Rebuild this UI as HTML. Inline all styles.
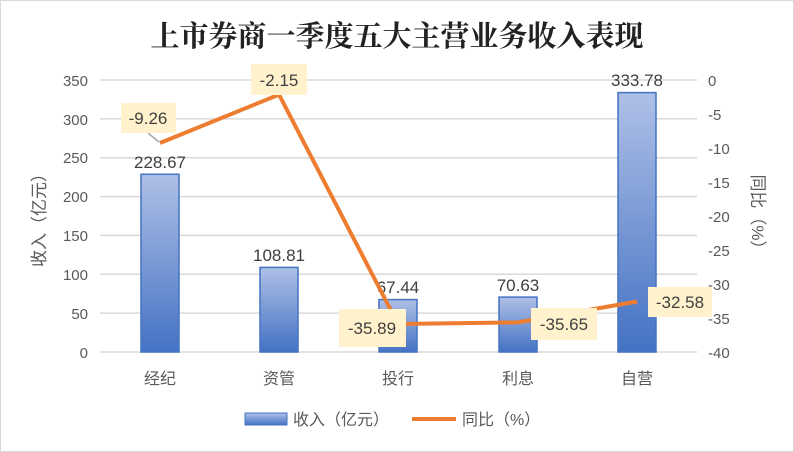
<!DOCTYPE html><html><head><meta charset="utf-8"><style>body{margin:0;background:#fff}svg{display:block}text{font-family:"Liberation Sans","Noto Sans CJK SC",sans-serif}</style></head><body>
<svg width="794" height="452" viewBox="0 0 794 452">
<defs><linearGradient id="g" x1="0" y1="0" x2="0" y2="1"><stop offset="0" stop-color="#aec0e6"/><stop offset="1" stop-color="#4472c4"/></linearGradient></defs>
<rect x="0.5" y="0.5" width="793" height="451" fill="#fff" stroke="#d9d9d9"/>
<text x="397" y="46" text-anchor="middle" font-size="29" font-weight="bold" fill="#222" style="font-family:'Noto Serif CJK SC',serif">上市券商一季度五大主营业务收入表现</text>
<g stroke="#d9d9d9" stroke-width="1.5">
<line x1="100" x2="697" y1="80" y2="80"/><line x1="100" x2="697" y1="118.9" y2="118.9"/><line x1="100" x2="697" y1="157.7" y2="157.7"/><line x1="100" x2="697" y1="196.6" y2="196.6"/><line x1="100" x2="697" y1="235.4" y2="235.4"/><line x1="100" x2="697" y1="274.3" y2="274.3"/><line x1="100" x2="697" y1="313.1" y2="313.1"/><line x1="100" x2="697" y1="352" y2="352"/></g>
<g font-size="15" fill="#595959" text-anchor="end">
<text x="88" y="86">350</text><text x="88" y="125">300</text><text x="88" y="163">250</text><text x="88" y="202">200</text><text x="88" y="241">150</text><text x="88" y="280">100</text><text x="88" y="319">50</text><text x="88" y="358">0</text></g>
<g font-size="15" fill="#595959">
<text x="708" y="86">0</text><text x="708" y="120">-5</text><text x="708" y="154">-10</text><text x="708" y="188">-15</text><text x="708" y="222">-20</text><text x="708" y="256">-25</text><text x="708" y="290">-30</text><text x="708" y="324">-35</text><text x="708" y="358">-40</text></g>
<text transform="translate(45,216) rotate(-90)" text-anchor="middle" font-size="17" fill="#595959">收入（亿元）</text>
<text transform="translate(752,216) rotate(90)" text-anchor="middle" font-size="17" fill="#595959">同比（%）</text>
<g fill="url(#g)" stroke="#4472c4" stroke-width="1.5">
<rect x="141" y="174.3" width="38" height="177.7"/>
<rect x="260" y="267.4" width="38" height="84.6"/>
<rect x="379" y="299.6" width="38" height="52.4"/>
<rect x="499" y="297.1" width="38" height="54.9"/>
<rect x="618" y="92.6" width="38" height="259.4"/></g>
<g font-size="17" fill="#404040" text-anchor="middle">
<text x="160" y="168">228.67</text><text x="279" y="261">108.81</text><text x="398" y="293">67.44</text><text x="518" y="291">70.63</text><text x="637" y="86">333.78</text></g>
<line x1="148" y1="133" x2="159" y2="142" stroke="#a6a6a6" stroke-width="1.5"/>
<polyline points="160,143 279,94.6 398,324 518,322.4 637,301.5" fill="none" stroke="#ed7d31" stroke-width="4" stroke-linejoin="round"/>
<g fill="#fff2cc"><rect x="121" y="103" width="55" height="30"/><rect x="251" y="64" width="56" height="31"/><rect x="339" y="309" width="67" height="38"/><rect x="531" y="308" width="66" height="32"/><rect x="648" y="287" width="64" height="30"/></g>
<g font-size="17" fill="#404040" text-anchor="middle">
<text x="148" y="124">-9.26</text><text x="279" y="86">-2.15</text><text x="372" y="334">-35.89</text><text x="564" y="330">-35.65</text><text x="680" y="308">-32.58</text></g>
<g font-size="16" fill="#595959" text-anchor="middle">
<text x="160" y="384">经纪</text><text x="279" y="384">资管</text><text x="398" y="384">投行</text><text x="518" y="384">利息</text><text x="637" y="384">自营</text></g>
<rect x="245" y="413" width="42" height="12" fill="url(#g)" stroke="#4472c4"/>
<text x="293" y="425" font-size="16" fill="#595959">收入（亿元）</text>
<line x1="412" y1="419" x2="456" y2="419" stroke="#ed7d31" stroke-width="4"/>
<text x="462" y="425" font-size="16" fill="#595959">同比（%）</text>
</svg></body></html>
